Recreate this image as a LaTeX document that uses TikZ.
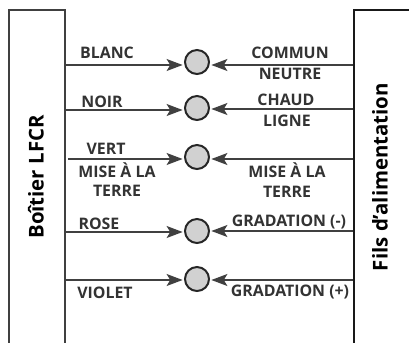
\documentclass[tikz,border=0pt]{standalone}
\usepackage{fontspec}
\setmainfont{Open Sans}
\usepackage{tikz}
\usetikzlibrary{arrows.meta}
\tikzset{
	borne/.style={circle, draw=black!85, line width=1.4pt, fill=black!18, minimum size=0.6cm, inner sep=0pt},
	fil/.style={-{Stealth[length=0.4cm, width=0.3cm, inset=0.09cm]}, line width=1pt, black!75, shorten >=1pt},
	etiq/.style={font=\bfseries\fontsize{11.3}{13}\selectfont, black!80, inner sep=0pt},
	titre/.style={font=\bfseries\fontsize{14.5}{16}\selectfont, rotate=90, inner sep=0pt},
}
\begin{document}
\begin{tikzpicture}
	[
	x=0.025cm, y=-0.025cm
	%1 Einheit = 1 Pixel, y nach unten
	]
	\useasboundingbox (0,0) rectangle (409,343);
	%Gehäuse
	\draw[line width=1pt, black!75] (9,343) -- (9,10) -- (65,10) -- (65,343);
	\draw[line width=1.5pt, black!90] (409,10) -- (354,10) -- (354,343);
	\node[titre] (boitier) at (36,177) {Boîtier LFCR};
	\node[titre] (fils) at (380,177) {Fils d'alimentation};
	%Klemmen und Leitungen
	\foreach \name/\xl/\yl/\yr/\yc in {a/66/65/65/62, b/66/110/109/108, c/68/159/159/157, d/66/232/231/231, e/66/280/280/279}
	{
		\node[borne] (\name) at (197,\yc) {};
		\coordinate (l\name) at (\xl,\yl);
		\coordinate (r\name) at (353,\yr);
		\draw[fil] (l\name) -- (l\name -| \name.west);
		\draw[fil] (r\name) -- (r\name -| \name.east);
	}
	%Beschriftung links
	\node[etiq] (blanc) at (107,53) {BLANC};
	\node[etiq] (noir) at (102,102) {NOIR};
	\node[etiq] (vert) at (106,149) {VERT};
	\node[etiq] (miseg) at (117,170) {MISE À LA};
	\node[etiq] (terreg) at (117,191) {TERRE};
	\node[etiq] (rose) at (99,224) {ROSE};
	\node[etiq] (violet) at (105,293) {VIOLET};
	%Beschriftung rechts
	\node[etiq] (commun) at (290,53) {COMMUN};
	\node[etiq] (neutre) at (290,74) {NEUTRE};
	\node[etiq] (chaud) at (286,100) {CHAUD};
	\node[etiq] (ligne) at (287,121) {LIGNE};
	\node[etiq] (mised) at (287,170) {MISE À LA};
	\node[etiq] (terred) at (287,192) {TERRE};
	\node[etiq] (gradm) at (289,222) {GRADATION (-)};
	\node[etiq] (gradp) at (290,292) {GRADATION (+)};
\end{tikzpicture}
\end{document}
